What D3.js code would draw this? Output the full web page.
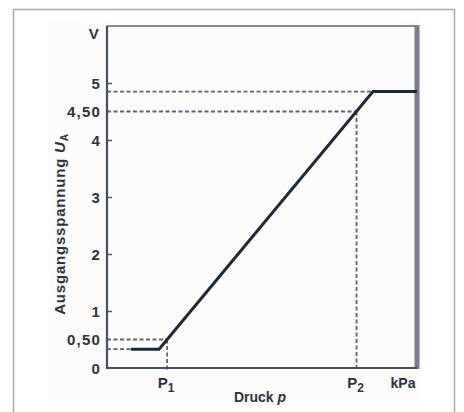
<!DOCTYPE html>
<html><head><meta charset="utf-8">
<script src="https://cdn.jsdelivr.net/npm/d3@7"></script>
<style>
html,body{margin:0;padding:0;background:#fff;}
svg{display:block;}
text{font-family:"Liberation Sans",Arial,sans-serif;fill:#2b3340;}
</style></head><body>
<svg id="c" width="464" height="412"></svg>
<script>
// Data
const yTicks = [0, 1, 2, 3, 4, 5];
const yTickLabels = ["0", "1", "2", "3", "4", "5"];
const yMarks = [0.50, 4.50];
const yMarkLabels = ["0,50", "4,50"];
const curveP = [0.77, 1.68, 8.58, 10];   // pressure (arbitrary units)
const curveU = [0.33, 0.33, 4.85, 4.85]; // output voltage in V
const pressureMarks = [1.94, 8.05];      // P1, P2
const pressureMarkU = [0.50, 4.50];
const pressureLabels = ["P", "P"];
const pressureSubs = ["1", "2"];

const svg = d3.select("#c");
const x = d3.scaleLinear().domain([0, 10]).range([107, 417]);
const y = d3.scaleLinear().domain([0, 6]).range([368, 26]);

// outer border
svg.append("rect").attr("x", 13.5).attr("y", 9.5).attr("width", 441).attr("height", 420)
  .attr("fill", "none").attr("stroke", "#a9a9a9").attr("stroke-width", 1.5);
// inner image area
svg.append("rect").attr("x", 49).attr("y", 20).attr("width", 372).attr("height", 386)
  .attr("fill", "#fefbfb");

const dashC = "#56657a";
function dash(x1, y1, x2, y2) {
  svg.append("line").attr("x1", x1).attr("y1", y1).attr("x2", x2).attr("y2", y2)
    .attr("stroke", dashC).attr("stroke-width", 1.8).attr("stroke-dasharray", "4,2.5");
}
// dashed guides
dash(x(0), y(curveU[0]), x(curveP[0]), y(curveU[0]));
dash(x(0), y(curveU[2]), x(curveP[2]), y(curveU[2]));
pressureMarks.forEach((p, i) => {
  dash(x(0), y(pressureMarkU[i]), x(p), y(pressureMarkU[i]));
  dash(x(p), y(pressureMarkU[i]), x(p), y(0) + 3);
});

// frame: top and right
svg.append("line").attr("x1", x(0)).attr("x2", x(10)).attr("y1", y(6)).attr("y2", y(6))
  .attr("stroke", "#858897").attr("stroke-width", 2);
svg.append("line").attr("x1", x(10)).attr("x2", x(10)).attr("y1", y(6) - 1).attr("y2", y(0) + 1)
  .attr("stroke", "#7b7e8e").attr("stroke-width", 5);

// axes
const yAxis = d3.axisLeft(y).tickValues(yTicks.filter(v => v > 0)).tickSize(-5).tickFormat("");
const gy = svg.append("g").attr("transform", `translate(${x(0)},0)`).call(yAxis);
gy.select(".domain").remove();
gy.selectAll(".tick line").attr("stroke", "#4a5a70").attr("stroke-width", 1.5);
svg.append("line").attr("x1", x(0)).attr("x2", x(0)).attr("y1", y(6)).attr("y2", y(0) + 1)
  .attr("stroke", "#3f5068").attr("stroke-width", 2.2);
svg.append("line").attr("x1", x(0) - 1).attr("x2", x(10)).attr("y1", y(0)).attr("y2", y(0))
  .attr("stroke", "#3f5068").attr("stroke-width", 2.2);

// y tick labels
const lblStyle = s => s.attr("font-size", 15).attr("font-weight", "bold").attr("letter-spacing", 1.2)
  .attr("text-anchor", "end").attr("dominant-baseline", "central");
yTicks.forEach((v, i) => {
  svg.append("text").attr("x", 101).attr("y", y(v)).text(yTickLabels[i]).call(lblStyle);
});
yMarks.forEach((v, i) => {
  svg.append("text").attr("x", 101).attr("y", y(v)).text(yMarkLabels[i]).call(lblStyle);
});
svg.append("text").attr("x", 100).attr("y", 33).text("V").call(lblStyle);

// curve
const line = d3.line().x(d => x(d[0])).y(d => y(d[1]));
svg.append("path").datum(curveP.map((p, i) => [p, curveU[i]]))
  .attr("d", line).attr("fill", "none").attr("stroke", "#1b2a36")
  .attr("stroke-width", 3).attr("stroke-linejoin", "miter");

// x labels
pressureMarks.forEach((p, i) => {
  const t = svg.append("text").attr("x", x(p) - 1).attr("y", 388)
    .attr("font-size", 15).attr("font-weight", "bold").attr("text-anchor", "middle");
  t.append("tspan").text(pressureLabels[i]);
  t.append("tspan").attr("dy", 4).attr("font-size", 12).text(pressureSubs[i]);
});
svg.append("text").attr("x", 403).attr("y", 388).attr("font-size", 14).attr("font-weight", "bold")
  .attr("text-anchor", "middle").text("kPa");
const dt = svg.append("text").attr("x", 260).attr("y", 402).attr("font-size", 14)
  .attr("font-weight", "bold").attr("text-anchor", "middle");
dt.append("tspan").text("Druck ");
dt.append("tspan").attr("font-style", "italic").text("p");

// y title
const yt = svg.append("text").attr("transform", "translate(65,224) rotate(-90)")
  .attr("font-size", 15).attr("font-weight", "bold").attr("letter-spacing", 0.8)
  .attr("text-anchor", "middle");
yt.append("tspan").text("Ausgangsspannung ");
yt.append("tspan").attr("font-style", "italic").text("U");
yt.append("tspan").attr("dy", 3).attr("font-size", 10).text("A");
</script>
</body></html>
